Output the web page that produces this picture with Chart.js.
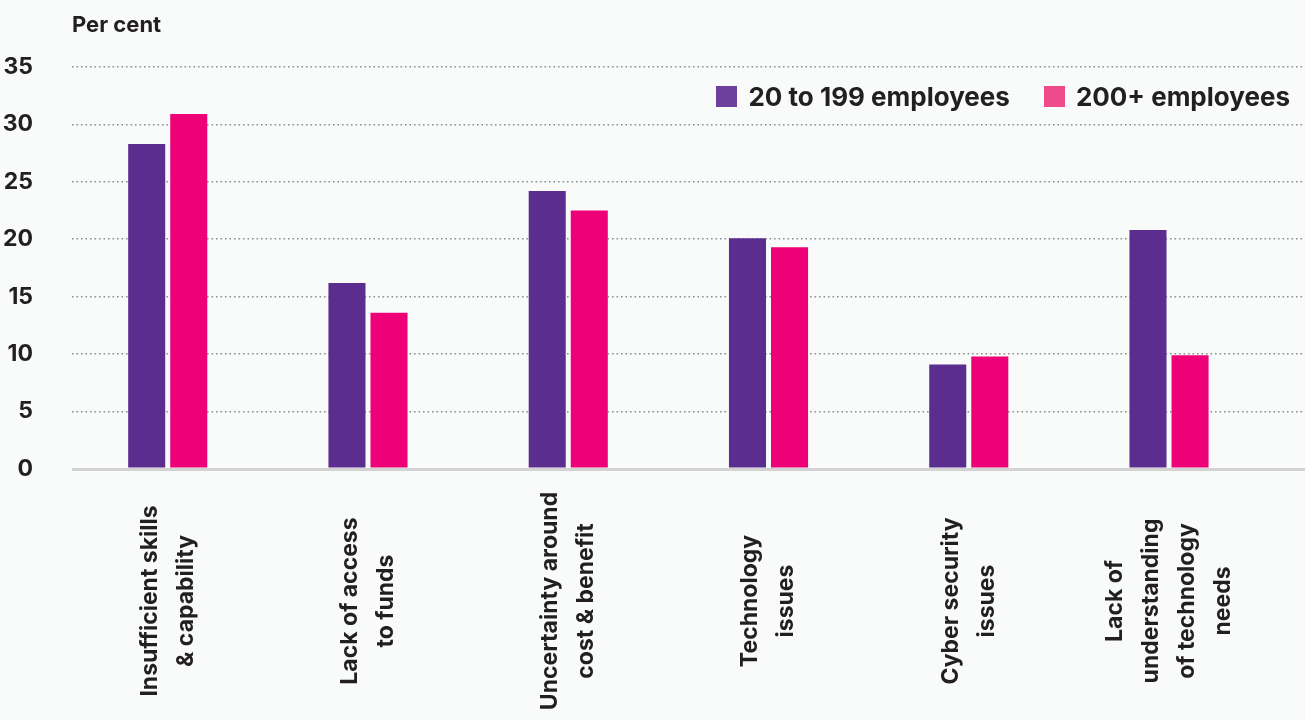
<!DOCTYPE html>
<html>
<head>
<meta charset="utf-8">
<script src="https://cdn.jsdelivr.net/npm/chart.js@4/dist/chart.umd.min.js"></script>
<style>
  html, body { margin: 0; padding: 0; background: #f9fafa; }
  #wrap { width: 1305px; height: 720px; position: relative; }
  #legend {
    position: absolute; top: 86px; right: 15px;
    display: flex; align-items: center; gap: 34px;
    font: bold 26px Inter, "Noto Sans", sans-serif; color: #231f20;
  }
  #legend span.item { display: flex; align-items: center; gap: 11px; line-height: 21px; white-space: nowrap; }
  #legend i { display: inline-block; width: 21px; height: 21px; }
</style>
</head>
<body>
<div id="wrap"><canvas id="chart"></canvas><div id="legend"></div></div>
<script>
const categories = [
  ['Insufficient skills', '& capability'],
  ['Lack of access', 'to funds'],
  ['Uncertainty around', 'cost & benefit'],
  ['Technology', 'issues'],
  ['Cyber security', 'issues'],
  ['Lack of', 'understanding', 'of technology', 'needs'],
];
const seriesNames = ['20 to 199 employees', '200+ employees'];
const smallFirms = [28.3, 16.2, 24.2, 20.1, 9.1, 20.8];
const largeFirms = [30.9, 13.6, 22.5, 19.3, 9.8, 9.9];
const yMin = 0;
const yMax = 35;
const yStep = 5;

const FONT = 'Inter, "Noto Sans", sans-serif';
const INK = '#231f20';
const barColors = ['#5b2d8e', '#ee0077'];
const legendColors = ['#6c409c', '#ef4a8a'];

const toPoints = (values) => values.map((v, i) => ({ x: i, y: v }));

// legend sits inside the plot, top right
document.getElementById('legend').innerHTML = seriesNames
  .map((name, i) => `<span class="item"><i style="background:${legendColors[i]}"></i>${name}</span>`)
  .join('');

// category labels drawn centred and rotated under each group
const xLabels = {
  id: 'xLabels',
  afterDraw(chart) {
    const { ctx } = chart;
    const xs = chart.scales.x;
    const lineH = 36;
    ctx.save();
    ctx.fillStyle = INK;
    ctx.font = `bold 23px ${FONT}`;
    ctx.textAlign = 'center';
    ctx.textBaseline = 'middle';
    categories.forEach((lines, i) => {
      ctx.save();
      ctx.translate(xs.getPixelForValue(i), 601);
      ctx.rotate(-Math.PI / 2);
      lines.forEach((line, j) => {
        ctx.fillText(line, 0, (j - (lines.length - 1) / 2) * lineH);
      });
      ctx.restore();
    });
    ctx.restore();
  },
};

new Chart(document.getElementById('chart'), {
  type: 'bar',
  data: {
    datasets: [
      { label: seriesNames[0], data: toPoints(smallFirms), backgroundColor: barColors[0] },
      { label: seriesNames[1], data: toPoints(largeFirms), backgroundColor: barColors[1] },
    ],
  },
  options: {
    responsive: true,
    maintainAspectRatio: false,
    animation: false,
    categoryPercentage: 0.42,
    barPercentage: 0.881,
    layout: { padding: { top: 0, right: 0, bottom: 251, left: 0 } },
    plugins: {
      tooltip: { enabled: false },
      legend: { display: false },
      title: {
        display: true,
        text: 'Per cent',
        align: 'start',
        fullSize: false,
        color: INK,
        font: { family: FONT, size: 22, weight: 'bold' },
        padding: { top: 12, bottom: 28.6 },
      },
    },
    scales: {
      x: {
        type: 'linear',
        display: false,
        offset: false,
        min: -0.478,
        max: 5.679,
        grid: { offset: false },
        ticks: { stepSize: 1, includeBounds: false },
      },
      y: {
        min: yMin,
        max: yMax,
        afterFit(scale) { scale.width = 72; },
        ticks: {
          stepSize: yStep,
          padding: 39,
          color: INK,
          font: { family: FONT, size: 23, weight: 'bold' },
        },
        grid: {
          drawTicks: false,
          color: (c) => (c.tick.value === 0 ? '#d3d3d3' : '#8e8e8e'),
          lineWidth: (c) => (c.tick.value === 0 ? 3 : 1.6),
        },
        border: {
          display: false,
          dash: (c) => (c.tick && c.tick.value === 0 ? [] : [1.6, 2.9]),
        },
      },
    },
  },
  plugins: [xLabels],
});
</script>
</body>
</html>
